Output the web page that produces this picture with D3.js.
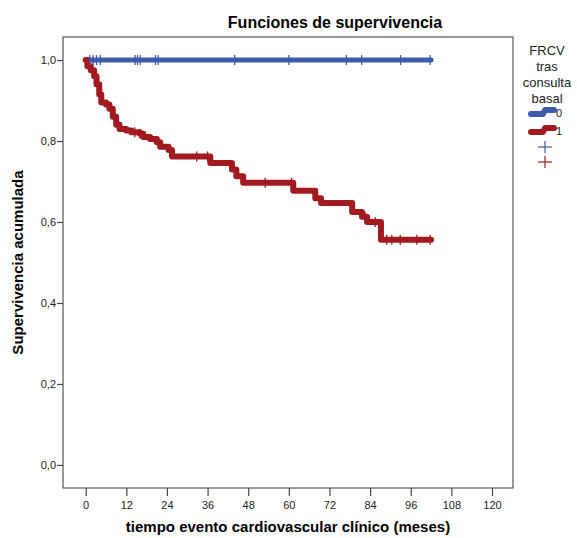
<!DOCTYPE html>
<html>
<head>
<meta charset="utf-8">
<script src="https://cdn.jsdelivr.net/npm/d3@7"></script>
<style>
  body { margin: 0; background: #fff; }
  text { font-family: "Liberation Sans", Arial, sans-serif; }
</style>
</head>
<body>
<div id="chart"></div>
<script>
// data
let xTicks = [0, 12, 24, 36, 48, 60, 72, 84, 96, 108, 120];
let yTicks = [0, 0.2, 0.4, 0.6, 0.8, 1.0];

// group 0: no events, only censored cases
let blueEnd = 102;
let blueCensor = [1.2, 2.2, 3.2, 4.3, 14.6, 15.3, 16.1, 20.6, 21.4, 44, 60, 77, 81.5, 93, 101.7];

// group 1: event times and survival after each step
let redTimes = [0.5, 1.5, 2.5, 3.2, 4.0, 4.6, 6.0, 7.0, 8.0, 9.0, 10.0, 12.0, 13.5, 16.0, 17.0, 19.0, 21.0, 22.0, 24.5, 25.5, 36.8, 43.2, 44.5, 46.5, 61.3, 67.8, 69.5, 78.7, 81.6, 83.1, 87.2];
let redSurv  = [0.985, 0.975, 0.96, 0.94, 0.915, 0.895, 0.89, 0.88, 0.86, 0.84, 0.83, 0.826, 0.822, 0.818, 0.81, 0.805, 0.797, 0.786, 0.778, 0.762, 0.746, 0.73, 0.713, 0.697, 0.677, 0.659, 0.647, 0.625, 0.613, 0.60, 0.556];
let redEnd = 102;
let redCensor = [14.5, 16, 32.8, 36, 53, 60.8, 82.5, 85.5, 88.9, 90.4, 92.9, 97.8, 101.7];

let legendTitle = ["FRCV", "tras", "consulta", "basal"];
let groups = ["0", "1"];
let colors = ["#3f5aab", "#a11a20"];

let width = 577, height = 538;
let pLeft = 63, pRight = 513, pTop = 37, pBottom = 488;

let svg = d3.select("#chart").append("svg")
  .attr("width", width)
  .attr("height", height);

let x = d3.scaleLinear().domain([-6.7, 126.2]).range([pLeft, pRight]);
let y = d3.scaleLinear().domain([-0.057, 1.057]).range([pBottom, pTop]);

// frame
svg.append("rect")
  .attr("x", pLeft).attr("y", pTop)
  .attr("width", pRight - pLeft).attr("height", pBottom - pTop)
  .attr("fill", "none").attr("stroke", "#555").attr("stroke-width", 1.2);

let fmt = d => d3.format(".1f")(d).replace(".", ",");

let yAxis = svg.append("g")
  .attr("transform", "translate(" + pLeft + ",0)")
  .call(d3.axisLeft(y).tickValues(yTicks).tickSize(6).tickFormat(fmt));
let xAxis = svg.append("g")
  .attr("transform", "translate(0," + pBottom + ")")
  .call(d3.axisBottom(x).tickValues(xTicks).tickSize(8).tickPadding(5));

[xAxis, yAxis].forEach(function(a) {
  a.select(".domain").remove();
  a.selectAll("line").attr("stroke", "#444").attr("stroke-width", 1.2);
  a.selectAll("text").attr("fill", "#222").style("font-size", "11px")
    .style("font-family", "'Liberation Sans', Arial, sans-serif");
});
yAxis.selectAll("text").attr("x", -7);

// curves
let line = d3.line()
  .x(d => x(d[0]))
  .y(d => y(d[1]))
  .curve(d3.curveStepAfter);

let bluePts = [[0, 1], [blueEnd, 1]];
let redPts = [[0, 1]];
redTimes.forEach((t, i) => redPts.push([t, redSurv[i]]));
redPts.push([redEnd, redSurv[redSurv.length - 1]]);

svg.append("path").datum(bluePts)
  .attr("d", line).attr("fill", "none")
  .attr("stroke", colors[0]).attr("stroke-width", 5)
  .attr("stroke-linecap", "round");

svg.append("path").datum(redPts)
  .attr("d", line).attr("fill", "none")
  .attr("stroke", colors[1]).attr("stroke-width", 6)
  .attr("stroke-linejoin", "round").attr("stroke-linecap", "round");

function survAt(t) {
  let i = d3.bisectRight(redTimes, t);
  return i === 0 ? 1 : redSurv[i - 1];
}

// censor marks
svg.selectAll(".cb").data(blueCensor).enter().append("line")
  .attr("x1", d => x(d)).attr("x2", d => x(d))
  .attr("y1", y(1) - 5).attr("y2", y(1) + 5)
  .attr("stroke", colors[0]).attr("stroke-width", 1.3);

svg.selectAll(".cr").data(redCensor).enter().append("line")
  .attr("x1", d => x(d)).attr("x2", d => x(d))
  .attr("y1", d => y(survAt(d)) - 5).attr("y2", d => y(survAt(d)) + 5)
  .attr("stroke", colors[1]).attr("stroke-width", 1.3);

// titles
svg.append("text")
  .attr("x", 335).attr("y", 28)
  .attr("text-anchor", "middle")
  .style("font-size", "16px").style("font-weight", "bold")
  .text("Funciones de supervivencia");

svg.append("text")
  .attr("x", (pLeft + pRight) / 2).attr("y", 532)
  .attr("text-anchor", "middle")
  .style("font-size", "15px").style("font-weight", "bold")
  .text("tiempo evento cardiovascular clínico (meses)");

svg.append("text")
  .attr("transform", "translate(23," + ((pTop + pBottom) / 2) + ") rotate(-90)")
  .attr("text-anchor", "middle")
  .style("font-size", "15px").style("font-weight", "bold")
  .text("Supervivencia acumulada");

// legend
let lg = svg.append("g");
lg.selectAll(".lt").data(legendTitle).enter().append("text")
  .attr("x", 547).attr("y", (d, i) => 55 + i * 16)
  .attr("text-anchor", "middle")
  .style("font-size", "13px").attr("fill", "#222")
  .text(d => d);

groups.forEach(function(g, i) {
  let yy = 114 + i * 18;
  lg.append("path")
    .attr("d", "M531," + yy + " L543," + yy + " L545," + (yy - 4) + " L554," + (yy - 4))
    .attr("fill", "none").attr("stroke", colors[i]).attr("stroke-width", 6)
    .attr("stroke-linecap", "round").attr("stroke-linejoin", "round");
  lg.append("text")
    .attr("x", 556).attr("y", yy + 3)
    .style("font-size", "11px").attr("fill", "#222")
    .text(g);
  let cy = 147 + i * 15;
  lg.append("line").attr("x1", 538).attr("x2", 552).attr("y1", cy).attr("y2", cy)
    .attr("stroke", colors[i]).attr("stroke-width", 1.2);
  lg.append("line").attr("x1", 545).attr("x2", 545).attr("y1", cy - 6).attr("y2", cy + 6)
    .attr("stroke", colors[i]).attr("stroke-width", 1.2);
});
</script>
</body>
</html>
